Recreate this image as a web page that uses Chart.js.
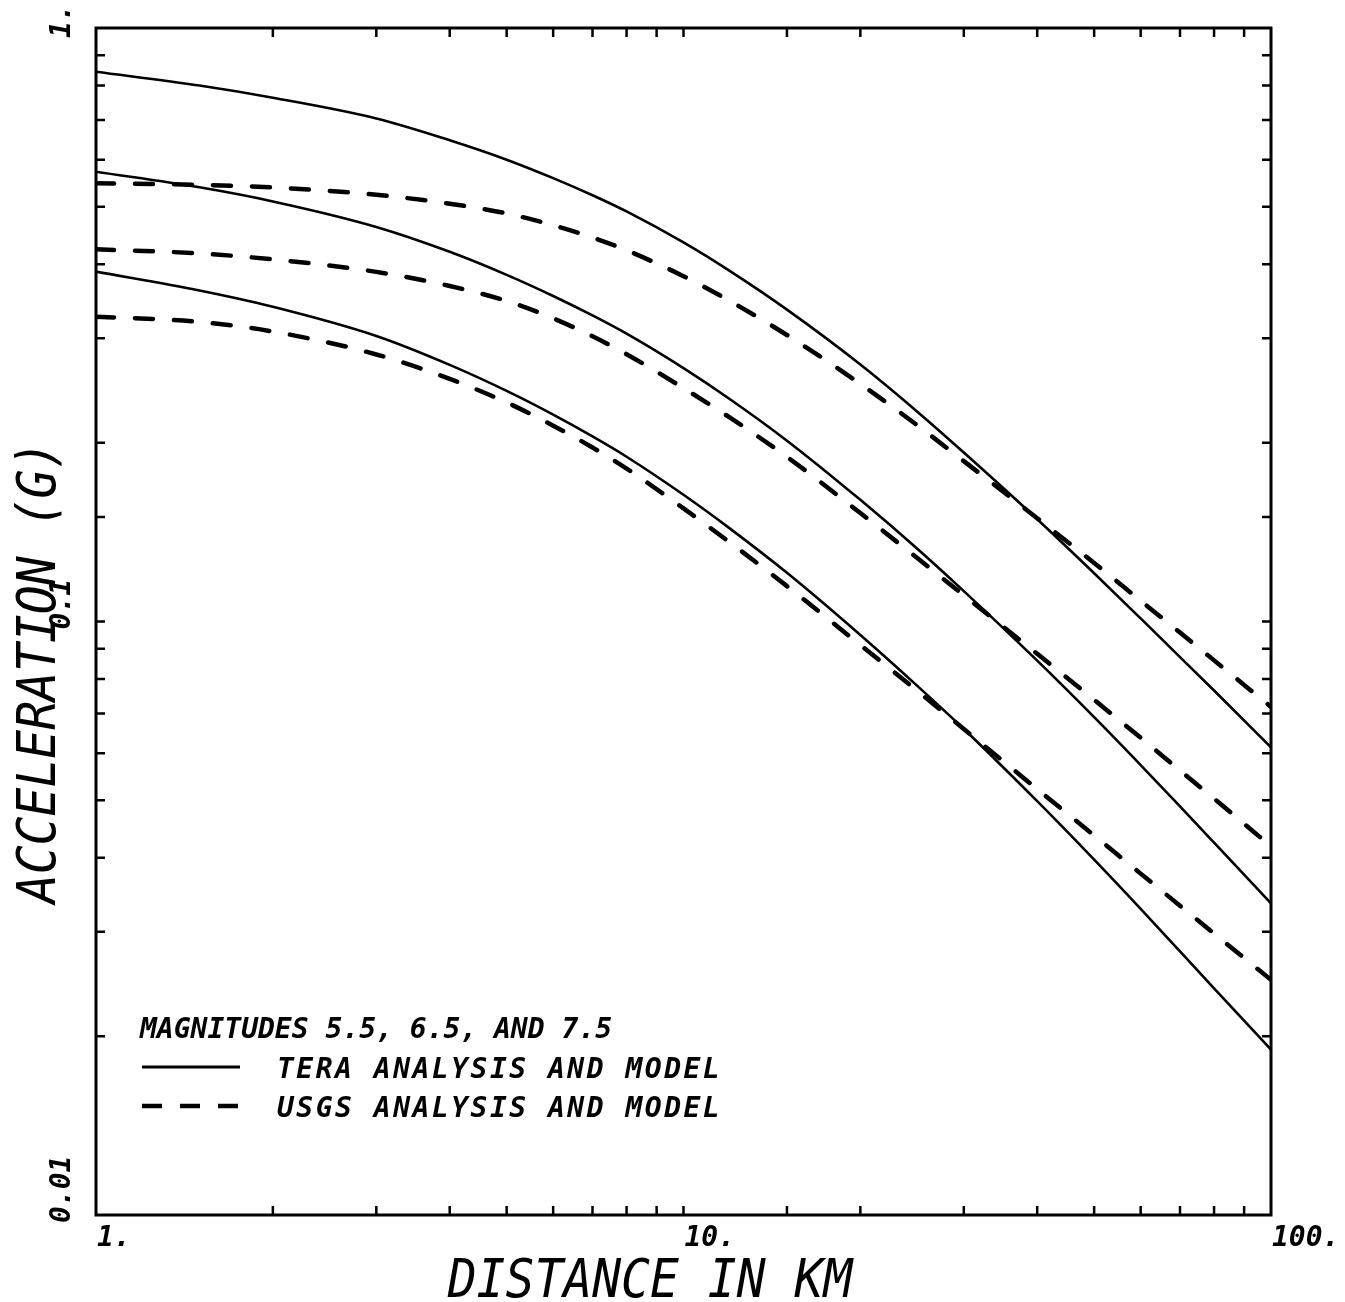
<!DOCTYPE html>
<html>
<head>
<meta charset="utf-8">
<title>Peak acceleration vs distance</title>
<script src="https://cdn.jsdelivr.net/npm/chart.js@4.4.1/dist/chart.umd.min.js"></script>
<style>
  html, body { margin: 0; padding: 0; background: #fff; }
  #wrap { width: 1345px; height: 1302px; position: relative; }
</style>
</head>
<body>
<div id="wrap"><canvas id="pgaChart"></canvas></div>
<script>
// distance (km) at which each curve was sampled
const distances = [1, 1.5, 2, 3, 4, 5, 6, 7, 8, 10, 12, 15, 20, 25, 30, 40, 50, 60, 70, 80, 100];

// TERA model, peak acceleration in g
const teraM75 = [0.844, 0.800, 0.763, 0.704, 0.647, 0.600, 0.5585, 0.5226, 0.4908, 0.4351, 0.3893, 0.3353, 0.271, 0.2257, 0.1926, 0.1487, 0.1206, 0.1012, 0.0871, 0.0765, 0.0614];
const teraM65 = [0.5727, 0.539, 0.5103, 0.4622, 0.4197, 0.3838, 0.3536, 0.3279, 0.3055, 0.2673, 0.2369, 0.2017, 0.1603, 0.1326, 0.1125, 0.0859, 0.069, 0.0573, 0.0488, 0.0424, 0.0335];
const teraM55 = [0.3886, 0.3611, 0.339, 0.3027, 0.2706, 0.2446, 0.2231, 0.205, 0.1895, 0.1635, 0.1434, 0.1208, 0.0949, 0.0779, 0.0659, 0.0498, 0.0397, 0.0328, 0.0278, 0.0241, 0.019];

// USGS model, peak acceleration in g
const usgsM75 = [0.5475, 0.5442, 0.5387, 0.5236, 0.5058, 0.487, 0.4652, 0.4436, 0.4222, 0.3818, 0.3466, 0.3039, 0.2514, 0.2141, 0.1863, 0.1493, 0.1255, 0.1084, 0.0958, 0.086, 0.0718];
const usgsM65 = [0.4238, 0.417, 0.4075, 0.3882, 0.3675, 0.3468, 0.3242, 0.3024, 0.2821, 0.2473, 0.2205, 0.1894, 0.1523, 0.1279, 0.1107, 0.0882, 0.0738, 0.0637, 0.0561, 0.0503, 0.0418];
const usgsM55 = [0.3263, 0.3197, 0.308, 0.2818, 0.2563, 0.2339, 0.2138, 0.1964, 0.181, 0.1551, 0.1358, 0.1147, 0.0913, 0.0764, 0.0659, 0.0522, 0.0436, 0.0376, 0.0332, 0.0298, 0.0249];

// labelled axis values
const xTickValues = [1, 10, 100];
const xTickLabels = ['1.', '10.', '100.'];
const yTickValues = [1, 0.1, 0.01];
const yTickLabels = ['1.', '0.1', '0.01'];

const xTitle = 'DISTANCE IN KM';
const yTitle = 'ACCELERATION (G)';
const keyTitle = 'MAGNITUDES 5.5, 6.5, AND 7.5';
const keySolid = 'TERA ANALYSIS AND MODEL';
const keyDashed = 'USGS ANALYSIS AND MODEL';

const FONT = '"DejaVu Sans Mono", "Liberation Mono", monospace';
const DASH = [18, 21];

function toPoints(ys) {
    return distances.map((d, i) => ({ x: d, y: ys[i] }));
}

function curve(label, ys, dashed) {
    return {
        label: label,
        data: toPoints(ys),
        borderColor: '#000',
        borderWidth: dashed ? 4.5 : 2.6,
        borderDash: dashed ? DASH : [],
        borderCapStyle: dashed ? 'round' : 'butt',
        pointRadius: 0,
        cubicInterpolationMode: 'monotone',
        fill: false
    };
}

// frame, inward tick marks, labels and the key are drawn here
const framePlugin = {
    id: 'frame',
    afterDraw(chart) {
        const { ctx, chartArea: a, scales: { x, y } } = chart;
        ctx.save();
        ctx.strokeStyle = '#000';
        ctx.fillStyle = '#000';

        // box
        ctx.lineWidth = 3;
        ctx.strokeRect(a.left, a.top, a.right - a.left, a.bottom - a.top);

        // minor ticks on all four sides, pointing in
        const tl = 9;
        ctx.lineWidth = 2.5;
        ctx.beginPath();
        x.ticks.forEach(t => {
            const px = x.getPixelForValue(t.value);
            if (px <= a.left + 2 || px >= a.right - 2) return;
            ctx.moveTo(px, a.bottom); ctx.lineTo(px, a.bottom - tl);
            ctx.moveTo(px, a.top); ctx.lineTo(px, a.top + tl);
        });
        y.ticks.forEach(t => {
            const py = y.getPixelForValue(t.value);
            if (py <= a.top + 2 || py >= a.bottom - 2) return;
            ctx.moveTo(a.left, py); ctx.lineTo(a.left + tl, py);
            ctx.moveTo(a.right, py); ctx.lineTo(a.right - tl, py);
        });
        ctx.stroke();

        // x tick labels
        ctx.font = `italic bold 28px ${FONT}`;
        ctx.textAlign = 'left';
        ctx.textBaseline = 'alphabetic';
        xTickValues.forEach((v, i) => {
            ctx.fillText(xTickLabels[i], x.getPixelForValue(v) + 1, a.bottom + 31);
        });

        // y tick labels, reading upwards
        yTickValues.forEach((v, i) => {
            const py = y.getPixelForValue(v);
            ctx.save();
            ctx.translate(a.left - 26, py + (i === 0 ? 10 : 8));
            ctx.rotate(-Math.PI / 2);
            ctx.fillText(yTickLabels[i], 0, 0);
            ctx.restore();
        });

        // axis titles
        ctx.font = `italic 48px ${FONT}`;
        ctx.textAlign = 'center';
        ctx.save();
        ctx.translate(650, 1297);
        ctx.scale(1, 1.12);
        ctx.fillText(xTitle, 0, 0);
        ctx.restore();

        ctx.save();
        ctx.translate(55, 672);
        ctx.rotate(-Math.PI / 2);
        ctx.scale(1, 1.12);
        ctx.fillText(yTitle, 0, 0);
        ctx.restore();

        // key
        ctx.font = `italic bold 28px ${FONT}`;
        ctx.textAlign = 'left';
        ctx.fillText(keyTitle, 140, 1038);

        ctx.letterSpacing = '2.5px';
        ctx.fillText(keySolid, 277, 1078);
        ctx.fillText(keyDashed, 277, 1117);
        ctx.letterSpacing = '0px';

        ctx.lineWidth = 3;
        ctx.beginPath();
        ctx.moveTo(142, 1067); ctx.lineTo(240, 1067);
        ctx.stroke();

        ctx.lineWidth = 4.5;
        ctx.setLineDash([20, 18]);
        ctx.beginPath();
        ctx.moveTo(142, 1106); ctx.lineTo(240, 1106);
        ctx.stroke();
        ctx.setLineDash([]);

        ctx.restore();
    }
};

const hiddenAxis = {
    type: 'logarithmic',
    ticks: { display: false },
    grid: { display: false, drawTicks: false },
    border: { display: false },
    title: { display: false }
};

new Chart(document.getElementById('pgaChart').getContext('2d'), {
    type: 'line',
    data: {
        datasets: [
            curve('TERA M7.5', teraM75, false),
            curve('TERA M6.5', teraM65, false),
            curve('TERA M5.5', teraM55, false),
            curve('USGS M7.5', usgsM75, true),
            curve('USGS M6.5', usgsM65, true),
            curve('USGS M5.5', usgsM55, true)
        ]
    },
    options: {
        responsive: true,
        maintainAspectRatio: false,
        animation: false,
        devicePixelRatio: 1,
        layout: { padding: { left: 96, top: 28, right: 74, bottom: 87 } },
        plugins: {
            legend: { display: false },
            tooltip: { enabled: false }
        },
        scales: {
            x: Object.assign({}, hiddenAxis, { min: 1, max: 100 }),
            y: Object.assign({}, hiddenAxis, { min: 0.01, max: 1 })
        }
    },
    plugins: [framePlugin]
});
</script>
</body>
</html>
